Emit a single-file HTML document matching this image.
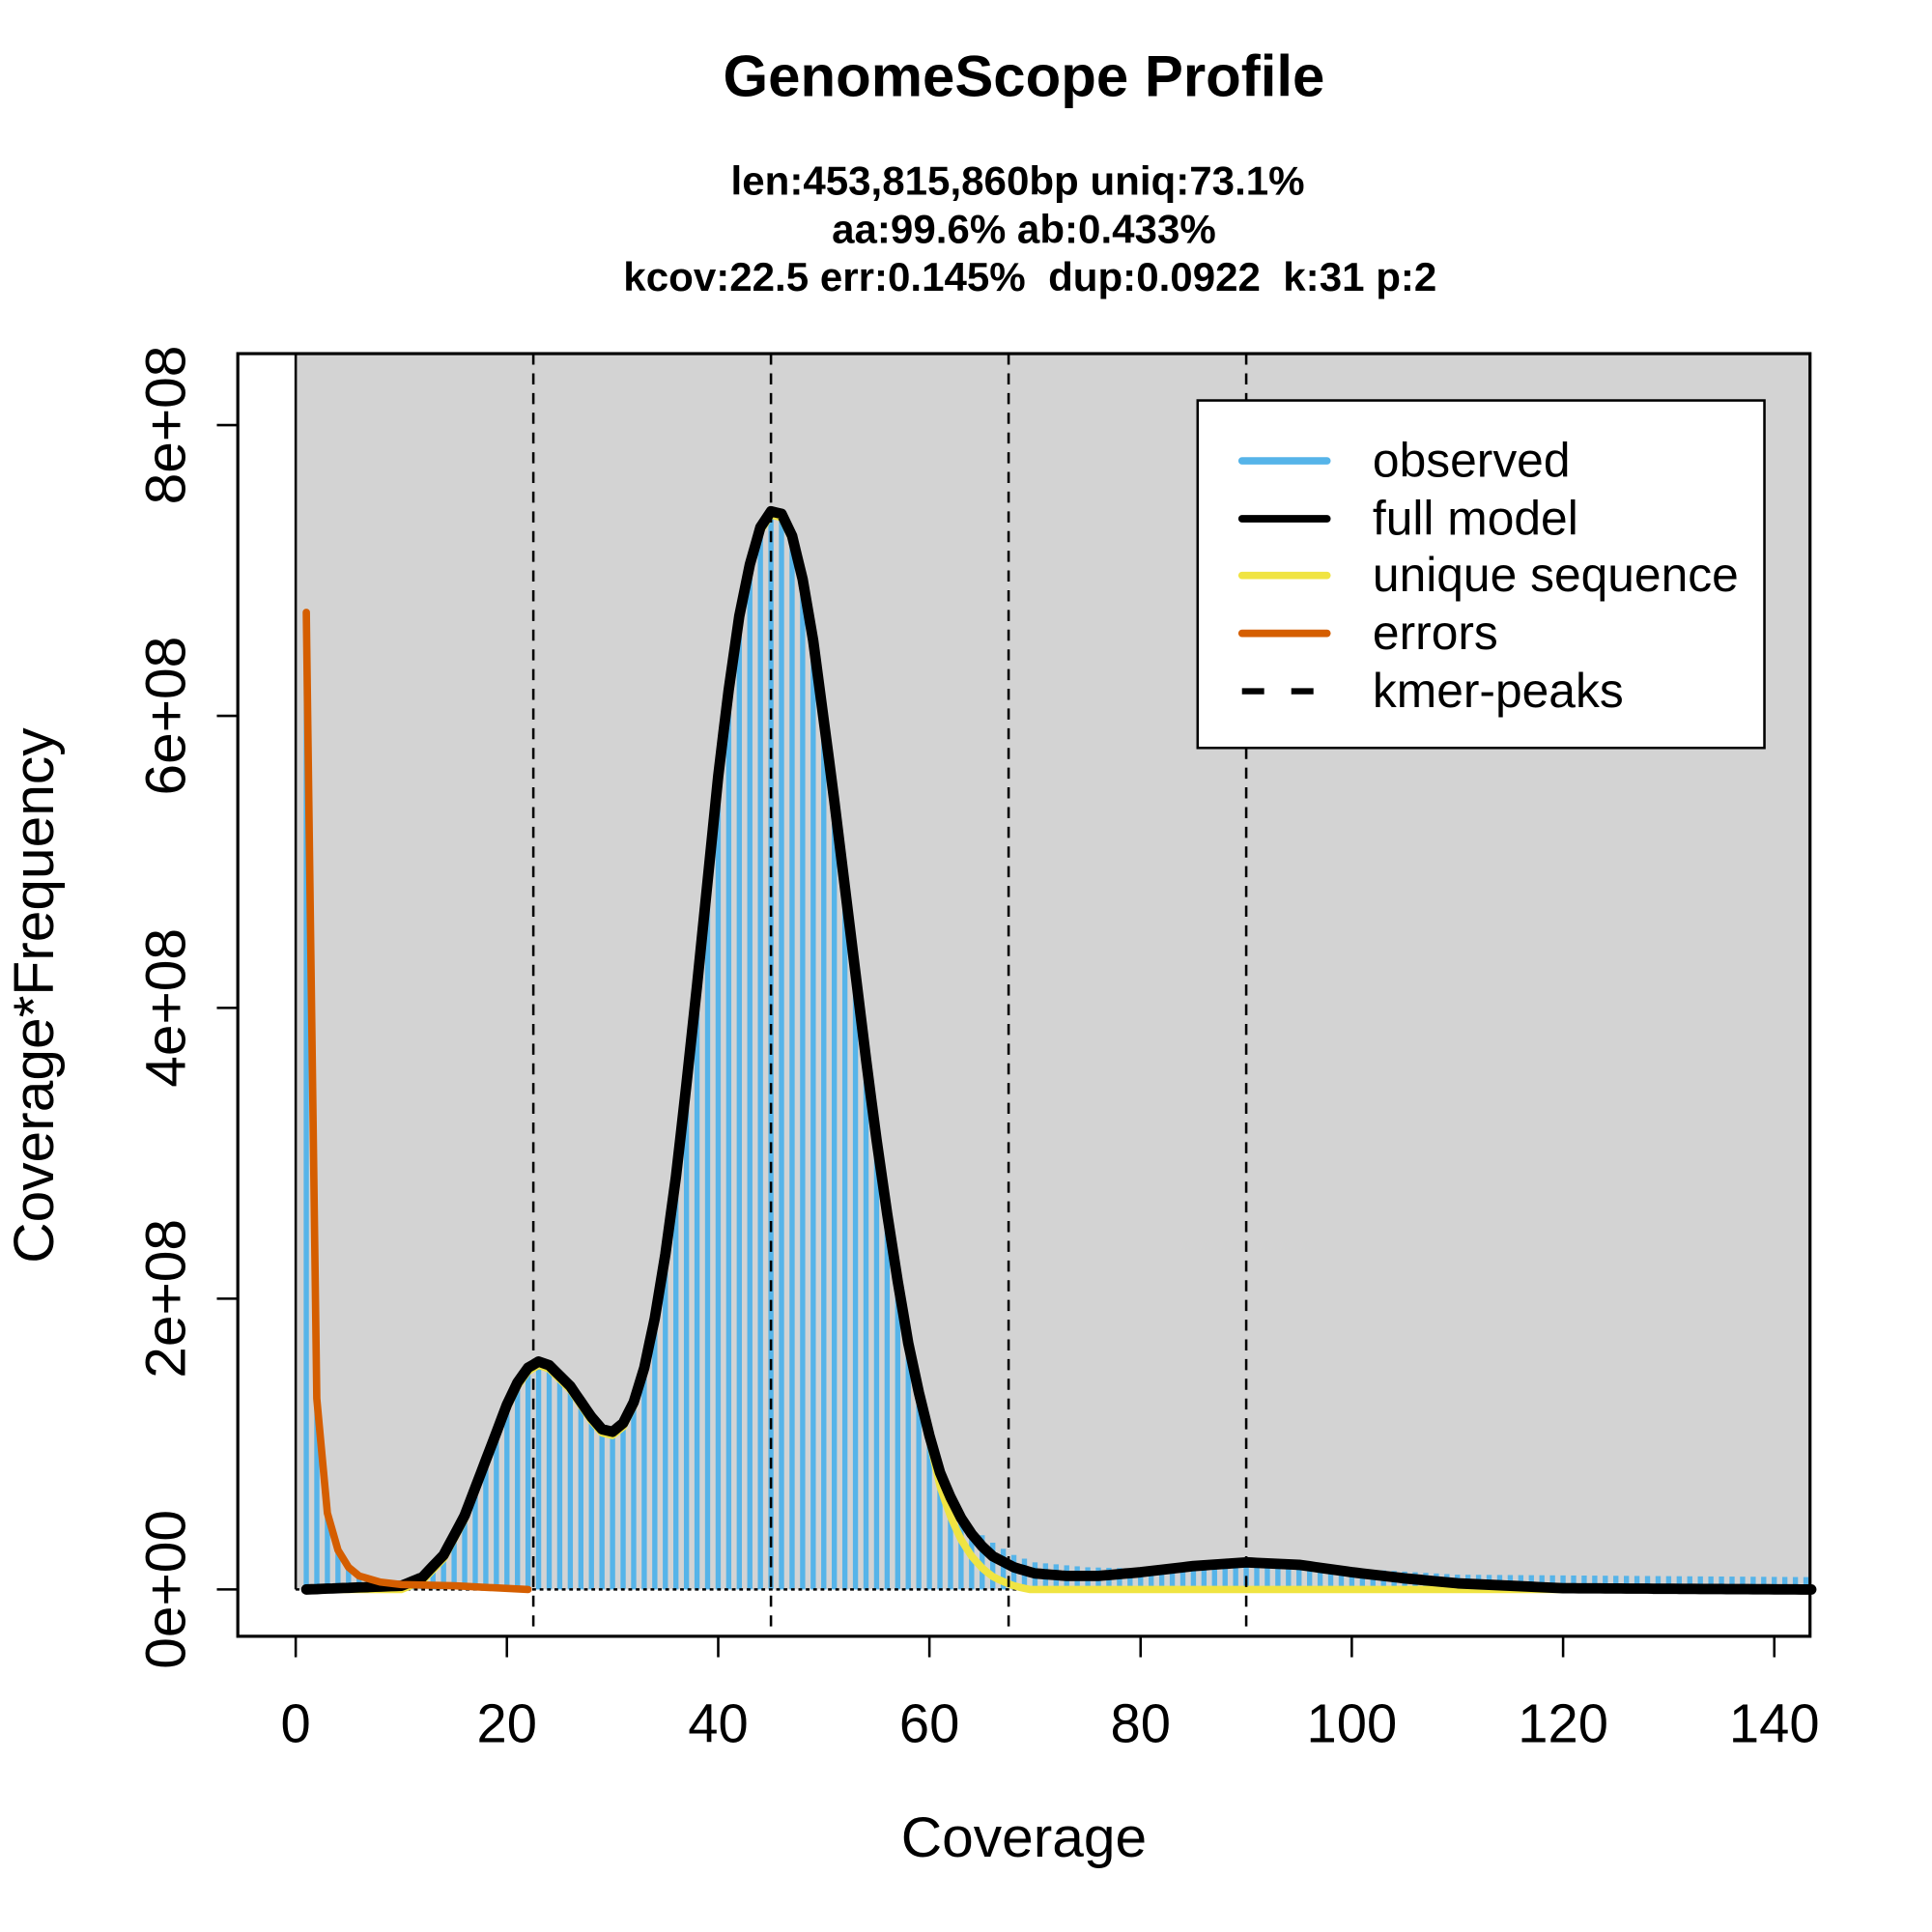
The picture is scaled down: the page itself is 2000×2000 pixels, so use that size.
<!DOCTYPE html>
<html><head><meta charset="utf-8"><style>
html,body{margin:0;padding:0;background:#fff;}
svg{display:block;}
text{font-family:"Liberation Sans",Arial,sans-serif;white-space:pre;}
</style></head><body>
<svg id="s" width="2000" height="2000" viewBox="0 0 1568 1568" xmlns="http://www.w3.org/2000/svg">
<rect x="0" y="0" width="1568" height="1568" fill="#fff"/>
<rect x="240" y="287" width="1229" height="1003" fill="#d3d3d3"/>
<g id="bars"></g>
<g id="lines"></g>
<line x1="240" y1="287" x2="240" y2="1290" stroke="#000" stroke-width="2"/>
<rect x="193" y="287" width="1276" height="1041" fill="none" stroke="#000" stroke-width="2.5"/>
<g stroke="#000" stroke-width="2">
<line x1="240" y1="1328" x2="240" y2="1345"/><line x1="411.4" y1="1328" x2="411.4" y2="1345"/>
<line x1="582.9" y1="1328" x2="582.9" y2="1345"/><line x1="754.3" y1="1328" x2="754.3" y2="1345"/>
<line x1="925.7" y1="1328" x2="925.7" y2="1345"/><line x1="1097.1" y1="1328" x2="1097.1" y2="1345"/>
<line x1="1268.6" y1="1328" x2="1268.6" y2="1345"/><line x1="1440" y1="1328" x2="1440" y2="1345"/>
<line x1="176" y1="1290" x2="193" y2="1290"/><line x1="176" y1="1054" x2="193" y2="1054"/>
<line x1="176" y1="818" x2="193" y2="818"/><line x1="176" y1="581" x2="193" y2="581"/>
<line x1="176" y1="345" x2="193" y2="345"/>
</g>
<g font-size="44" text-anchor="middle">
<text x="240" y="1414">0</text><text x="411.4" y="1414">20</text><text x="582.9" y="1414">40</text>
<text x="754.3" y="1414">60</text><text x="925.7" y="1414">80</text><text x="1097.1" y="1414">100</text>
<text x="1268.6" y="1414">120</text><text x="1440" y="1414">140</text>
</g>
<g font-size="46" text-anchor="middle">
<text transform="translate(150,1290) rotate(-90)">0e+00</text>
<text transform="translate(150,1054) rotate(-90)">2e+08</text>
<text transform="translate(150,818) rotate(-90)">4e+08</text>
<text transform="translate(150,581) rotate(-90)">6e+08</text>
<text transform="translate(150,345) rotate(-90)">8e+08</text>
</g>
<text x="831" y="1507" font-size="46" text-anchor="middle">Coverage</text>
<text transform="translate(43,808) rotate(-90)" font-size="46" text-anchor="middle">Coverage*Frequency</text>
<text x="831" y="78" font-size="47" font-weight="bold" text-anchor="middle">GenomeScope Profile</text>
<g font-size="33" font-weight="bold" text-anchor="middle">
<text x="826" y="158">len:453,815,860bp uniq:73.1%</text>
<text x="831" y="197">aa:99.6% ab:0.433%</text>
<text x="836" y="236" xml:space="preserve">kcov:22.5 err:0.145%  dup:0.0922  k:31 p:2</text>
</g>
<rect x="972" y="325" width="460" height="282" fill="#fff" stroke="#000" stroke-width="2"/>
<g stroke-width="6" stroke-linecap="round">
<line x1="1008" y1="374" x2="1077" y2="374" stroke="#56b4e9"/>
<line x1="1008" y1="421" x2="1077" y2="421" stroke="#000"/>
<line x1="1008" y1="467" x2="1077" y2="467" stroke="#f0e442"/>
<line x1="1008" y1="514" x2="1077" y2="514" stroke="#d55e00"/>
<line x1="1008" y1="561" x2="1070" y2="561" stroke="#000" stroke-width="5" stroke-dasharray="18,22" stroke-linecap="butt"/>
</g>
<g font-size="39">
<text x="1114" y="387">observed</text>
<text x="1114" y="434">full model</text>
<text x="1114" y="480">unique sequence</text>
<text x="1114" y="527">errors</text>
<text x="1114" y="574">kmer-peaks</text>
</g>
</svg>
<script>
(function(){
function X(c){return 240+c*8.5714;}
var full=[[1,1290],[10,1287],[12,1280],[14,1262],[16,1230],[18,1185],[20,1140],[21,1122],[22,1110],[23,1105],[24,1108],[26,1125],[28,1150],[29,1160],[30,1162],[31,1155],[32,1138],[33,1110],[34,1070],[35,1018],[36,955],[37,880],[38,800],[39,715],[40,630],[41,560],[42,500],[43,458],[44,428],[45,415],[46,417],[47,435],[48,470],[49,520],[50,585],[51,650],[52,720],[53,790],[54,860],[55,925],[56,985],[57,1040],[58,1090],[59,1130],[60,1165],[61,1195],[62,1215],[63,1232],[64,1245],[65,1255],[66,1263],[68,1272],[70,1277],[73,1279],[76,1279],[80,1276],[85,1271],[90,1268],[95,1270],[100,1276],[105,1281],[110,1285],[120,1289],[143.5,1290]];
function interp(arr,c){for(var i=0;i<arr.length-1;i++){if(c>=arr[i][0]&&c<=arr[i+1][0]){var t=(c-arr[i][0])/(arr[i+1][0]-arr[i][0]);return arr[i][1]+t*(arr[i+1][1]-arr[i][1]);}}return arr[arr.length-1][1];}
var err=[[1,497],[2,1135],[3,1228],[4,1258],[5,1272],[6,1279],[8,1284],[10,1286],[15,1287],[22,1290]];
var tail=[[62,1215],[64,1240],[66,1252],[68,1262],[70,1268],[75,1272],[80,1273],[85,1270],[90,1267],[95,1269],[100,1273],[110,1278],[143.5,1280]];
var uniq=function(c){var f=interp(full,c);if(c<=60)return Math.min(1290,f+3);var k=Math.min(1,(c-60)/12);var u=f+3+k*(1290-f);return Math.min(1290,u);};
var b='';
for(var c=1;c<=143;c++){var y;if(c<=2)y=interp(err,c);else if(c<62)y=Math.min(interp(full,c)+4,1290);else y=Math.min(interp(tail,c),interp(full,c)+4);
if(c<10)y=Math.min(y,interp(err,c));
b+='<line x1="'+X(c)+'" y1="1290" x2="'+X(c)+'" y2="'+y+'" stroke="#56b4e9" stroke-width="4.2"/>';}
document.getElementById('bars').innerHTML=b;
function path(f,a,z,st){var s='';for(var c=a;c<=z+1e-6;c+=0.5){s+=(s?'L':'M')+X(c).toFixed(1)+','+f(c).toFixed(1);}return '<path d="'+s+'" fill="none" '+st+'/>';}
var L='';
L+='<line x1="240" y1="1290" x2="1469" y2="1290" stroke="#000" stroke-width="2" stroke-dasharray="3,3"/>';
L+=path(uniq,1,143.5,'stroke="#f0e442" stroke-width="6" stroke-linejoin="round"');
L+=path(function(c){return interp(full,c);},1,143.5,'stroke="#000" stroke-width="8.5" stroke-linejoin="round" stroke-linecap="round"');
var es='';err.forEach(function(p,i){es+=(i?'L':'M')+X(p[0]).toFixed(1)+','+p[1];});
L+='<path d="'+es+'" fill="none" stroke="#d55e00" stroke-width="6" stroke-linejoin="round" stroke-linecap="round"/>';
[22.5,45,67.5,90].forEach(function(p){L+='<line x1="'+X(p)+'" y1="287" x2="'+X(p)+'" y2="1328" stroke="#000" stroke-width="2" stroke-dasharray="9,7"/>';});
document.getElementById('lines').innerHTML=L;
})();
</script>
</body></html>
